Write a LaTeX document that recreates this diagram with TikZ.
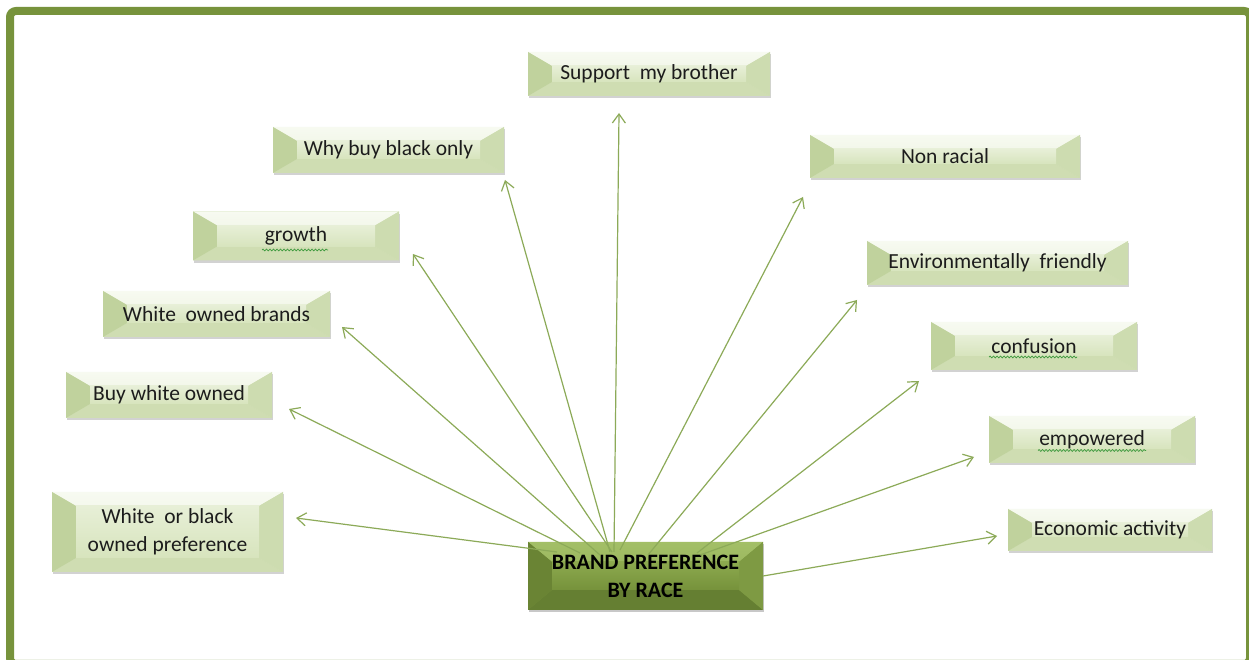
\documentclass[tikz,border=0pt]{standalone}
\usepackage{fontspec}
\setmainfont{Carlito}
\usetikzlibrary{arrows.meta,shadows,calc,decorations.pathmorphing}

\definecolor{frameGreen}{HTML}{77933C}
\definecolor{linkGreen}{HTML}{8CAA58}
\definecolor{squigGreen}{HTML}{3E9A3E}
\definecolor{txt}{HTML}{1C1C1C}
% light bevel faces
\definecolor{lgBase}{HTML}{D7E4BD}
\definecolor{lgT}{HTML}{F7FAF1}
\definecolor{lgTB}{HTML}{E9F0DA}
\definecolor{lgL}{HTML}{C0D29D}
\definecolor{lgR}{HTML}{CDDCB0}
\definecolor{lgB}{HTML}{CFDDB2}
\definecolor{lgIT}{HTML}{E7EFD7}
\definecolor{lgIB}{HTML}{D7E4BD}
% dark bevel faces
\definecolor{dkBase}{HTML}{77933C}
\definecolor{dkT}{HTML}{A3BF67}
\definecolor{dkTB}{HTML}{8EAB51}
\definecolor{dkL}{HTML}{6A8434}
\definecolor{dkR}{HTML}{7E9A43}
\definecolor{dkB}{HTML}{657F32}
\definecolor{dkIT}{HTML}{8CA94E}
\definecolor{dkIB}{HTML}{76923B}

% bevel faces: #1 side inset, #2 top/bottom inset, #3 colour prefix
\newcommand\bevelpaint[3]{%
  \shade[top color=#3T, bottom color=#3TB] let \p1=(path picture bounding box.south west), \p2=(path picture bounding box.north east) in
    (\x1,\y2) -- (\x2,\y2) -- (\x2-#1,\y2-#2) -- (\x1+#1,\y2-#2) -- cycle;
  \fill[#3B] let \p1=(path picture bounding box.south west), \p2=(path picture bounding box.north east) in
    (\x1,\y1) -- (\x2,\y1) -- (\x2-#1,\y1+#2) -- (\x1+#1,\y1+#2) -- cycle;
  \fill[#3L] let \p1=(path picture bounding box.south west), \p2=(path picture bounding box.north east) in
    (\x1,\y1) -- (\x1,\y2) -- (\x1+#1,\y2-#2) -- (\x1+#1,\y1+#2) -- cycle;
  \fill[#3R] let \p1=(path picture bounding box.south west), \p2=(path picture bounding box.north east) in
    (\x2,\y1) -- (\x2,\y2) -- (\x2-#1,\y2-#2) -- (\x2-#1,\y1+#2) -- cycle;
  \shade[top color=#3IT, bottom color=#3IB] let \p1=(path picture bounding box.south west), \p2=(path picture bounding box.north east) in
    (\x1+#1,\y1+#2) rectangle (\x2-#1,\y2-#2);
}

\tikzset{
  x=1pt, y=1pt,
  sz/.style 2 args={minimum width=#1, minimum height=#2},
  topic/.style={fill=lgBase, inner sep=0pt, text=txt, align=center,
    font=\fontsize{21.5}{28}\selectfont,
    drop shadow={shadow xshift=1pt, shadow yshift=-2.5pt, opacity=0.25, fill=black!70},
    path picture={\bevelpaint{24pt}{14pt}{lg}}},
  hub/.style={fill=dkBase, inner sep=0pt, text=black, align=center,
    font=\bfseries\fontsize{22}{28}\selectfont,
    drop shadow={shadow xshift=1pt, shadow yshift=-2.5pt, opacity=0.3, fill=black!70},
    path picture={\bevelpaint{24pt}{20pt}{dk}}},
  link/.style={draw=linkGreen, line width=1.2pt,
    -{Straight Barb[length=9pt, width=13pt, line width=1.2pt]}},
  squig/.style={draw=squigGreen, line width=0.7pt, decorate,
    decoration={snake, amplitude=0.9pt, segment length=3.5pt}},
}

\begin{document}
\begin{tikzpicture}
\useasboundingbox (0,0) rectangle (1249,660);
\clip (0,0) rectangle (1249,660);
\fill[white] (0,0) rectangle (1249,660);

% outer frame
\draw[frameGreen, line width=8pt, rounded corners=6pt] (10,649) rectangle (1250,-4);

% topic boxes
\node[topic, sz={242pt}{44pt}] (n1)  at (649,586)    {Support\ \ my brother};
\node[topic, sz={231pt}{46pt}] (n2)  at (388.5,510)  {Why buy black only};
\node[topic, sz={206pt}{49pt}] (n3)  at (296,424)    {growth};
\node[topic, sz={227pt}{46pt}] (n4)  at (216.5,346)  {White\ \ owned brands};
\node[topic, sz={206pt}{46pt}] (n5)  at (169,265)    {Buy white owned};
\node[topic, sz={231pt}{80pt}] (n6)  at (167.5,128)  {White\ \ or black\\owned preference};
\node[topic, sz={270pt}{43pt}] (n7)  at (945,503.5)  {Non racial};
\node[topic, sz={261pt}{44pt}] (n8)  at (997.5,397)  {Environmentally\ \ friendly};
\node[topic, sz={206pt}{48pt}] (n9)  at (1034,314)   {confusion};
\node[topic, sz={206pt}{47pt}] (n10) at (1092,220.5) {empowered};
\node[topic, sz={204pt}{42pt}] (n11) at (1110,130)   {Economic activity};

% spelling marks under single words
\draw[squig] ([shift={(-34,-14)}]n3.center)  -- ([shift={(32,-14)}]n3.center);
\draw[squig] ([shift={(-45,-11)}]n9.center)  -- ([shift={(43,-11)}]n9.center);
\draw[squig] ([shift={(-54,-11)}]n10.center) -- ([shift={(54,-11)}]n10.center);

% hub
\node[hub, sz={235pt}{68pt}] (c) at (645.5,84) {BRAND PREFERENCE\\BY RACE};

% connector ends
\coordinate (s1)  at (614,108);  \coordinate (t1)  at (619,547);
\coordinate (s2)  at (610,108);  \coordinate (t2)  at (505,480);
\coordinate (s3)  at (612,108);  \coordinate (t3)  at (413,406);
\coordinate (s4)  at (600,105);  \coordinate (t4)  at (342,333);
\coordinate (s5)  at (580,107);  \coordinate (t5)  at (289,251);
\coordinate (s6)  at (557,108);  \coordinate (t6)  at (296,142);
\coordinate (s7)  at (620,110);  \coordinate (t7)  at (803,463);
\coordinate (s8)  at (648,105);  \coordinate (t8)  at (857,360);
\coordinate (s9)  at (697,107);  \coordinate (t9)  at (919,279);
\coordinate (s10) at (700,105);  \coordinate (t10) at (974,203);
\coordinate (s11) at (c.east);   \coordinate (t11) at (997,124);

\foreach \i in {1,...,11} \draw[link] (s\i) -- (t\i);
\end{tikzpicture}
\end{document}
